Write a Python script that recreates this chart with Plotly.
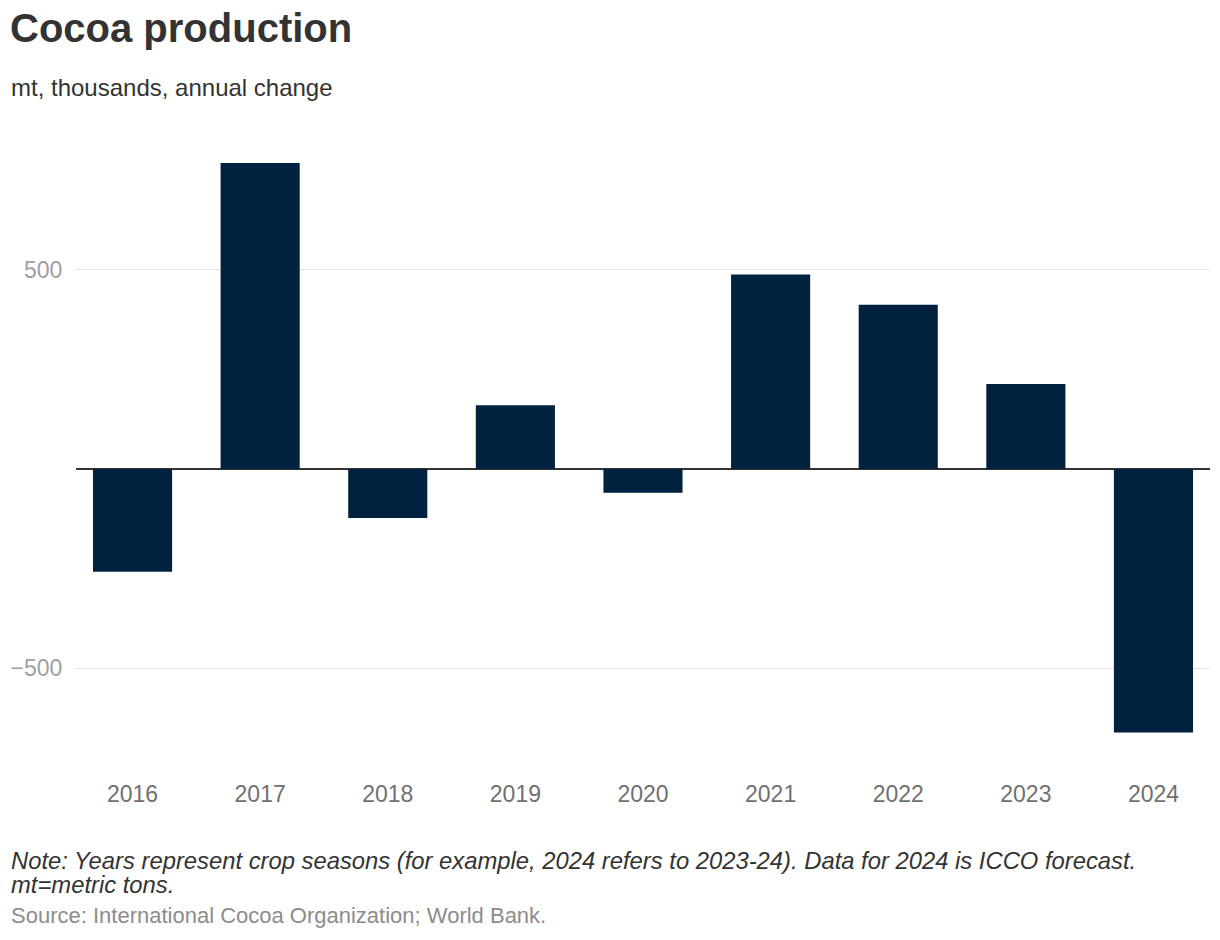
import plotly.graph_objects as go

years = ["2016", "2017", "2018", "2019", "2020", "2021", "2022", "2023", "2024"]
change = [-258, 768, -123, 160, -60, 488, 412, 213, -662]
y_ticks = [-500, 500]
y_tick_labels = ["\u2212500", "500"]

W, H = 1220, 940
L, R, T, B = 68, 18, 132, 188
pw = W - L - R
ph = H - T - B

def px_x(x):
    return (x - L) / pw

def px_y(y):
    return (H - B - y) / ph

fig = go.Figure(go.Bar(x=years, y=change, marker_color="#00223f", marker_line_width=0))

fig.update_layout(
    width=W, height=H,
    margin=dict(l=L, r=R, t=T, b=B, autoexpand=False),
    plot_bgcolor="white", paper_bgcolor="white",
    bargap=0.38,
    showlegend=False,
    font=dict(family="Liberation Sans, Arial, sans-serif", color="#333333"),
)
fig.update_xaxes(
    type="category", range=[-0.443, 8.443], showgrid=False, showline=False,
    automargin=False,
    ticks="outside", ticklen=13, tickcolor="rgba(0,0,0,0)",
    tickfont=dict(size=23, color="#707070"),
)
fig.update_yaxes(
    range=[-731, 826], tickvals=y_ticks, ticktext=y_tick_labels,
    automargin=False,
    showgrid=True, gridcolor="#e3e3e3", gridwidth=1,
    zeroline=True, zerolinecolor="#333333", zerolinewidth=2,
    ticks="outside", ticklen=8, tickcolor="rgba(0,0,0,0)",
    tickfont=dict(size=23, color="#a0a0a0"),
)

annots = [
    dict(text="<b>Cocoa production</b>", x=px_x(0), y=px_y(20), size=40, color="#333333"),
    dict(text="mt, thousands, annual change", x=px_x(1), y=px_y(80), size=24, color="#333333"),
    dict(text="<i>Note: Years represent crop seasons (for example, 2024 refers to 2023-24). Data for 2024 is ICCO forecast.</i>",
         x=px_x(1), y=px_y(852), size=23.8, color="#333333"),
    dict(text="<i>mt=metric tons.</i>", x=px_x(1), y=px_y(876), size=23.8, color="#333333"),
    dict(text="Source: International Cocoa Organization; World Bank.", x=px_x(1), y=px_y(908), size=22, color="#8c8c8c"),
]
for a in annots:
    fig.add_annotation(
        text=a["text"], xref="paper", yref="paper", x=a["x"], y=a["y"],
        xanchor="left", yanchor="middle", showarrow=False,
        font=dict(size=a["size"], color=a["color"]),
    )

fig.write_html("out.html")
